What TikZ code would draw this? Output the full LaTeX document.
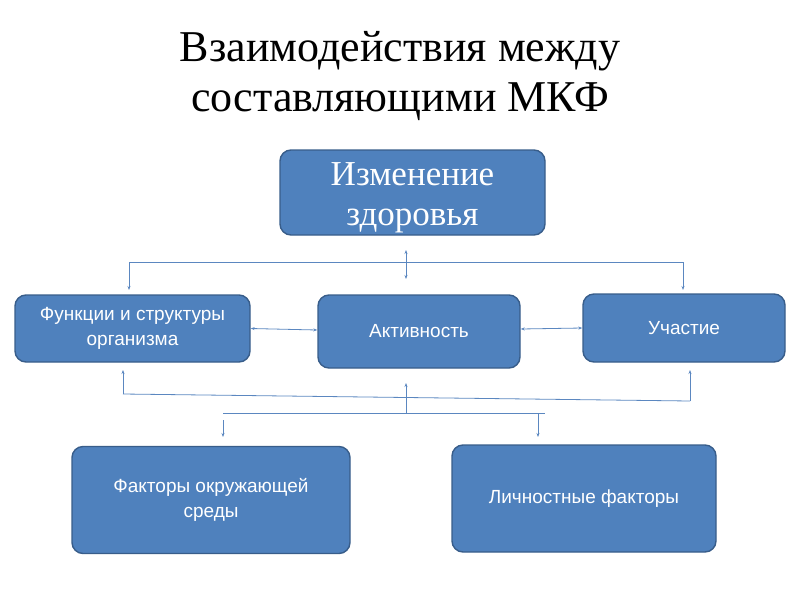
\documentclass[tikz,border=0pt]{standalone}
\usepackage{fontspec}
\setmainfont{Liberation Serif}
\newfontfamily\boxfont{Liberation Sans}
\usetikzlibrary{arrows.meta}
\definecolor{boxblue}{HTML}{4F81BD}
\definecolor{boxedge}{HTML}{385D8A}
\definecolor{linkblue}{HTML}{5B87C0}
\newcommand{\blk}[2]{node[box,minimum width=#1,minimum height=#2]}

\begin{document}
\begin{tikzpicture}[x=1pt,y=-1pt,
	box/.style={fill=boxblue,draw=boxedge,line width=1.4pt,rounded corners=11pt,
		text=white,align=center,inner sep=0pt,font=\boxfont\fontsize{19}{25}\selectfont},
	link/.style={draw=linkblue,line width=0.8pt},
	tip/.style={link,-{Stealth[length=4pt,width=3pt]}},
	tips/.style={link,{Stealth[length=4pt,width=3pt]}-{Stealth[length=4pt,width=3pt]}}]
\useasboundingbox (0,0) rectangle (800,600);

\node[align=center,font=\fontsize{44}{50}\selectfont] (title) at (400,76) {Взаимодействия между\\составляющими МКФ};

\path (412.5,192.5) \blk{265pt}{85pt} (health) {};
\node[text=white,align=center,font=\fontsize{35}{40}\selectfont] (healthtext) at (412.5,198) {Изменение\\здоровья};
\path (132.5,328.5) \blk{235pt}{67pt} (body) {Функции и структуры\\организма};
\path (419,331.5) \blk{202pt}{73pt} (activity) {Активность};
\path (684,328) \blk{202pt}{68pt} (particip) {Участие};
\path (211,500) \blk{278pt}{107pt} (env) {Факторы окружающей\\среды};
\path (584,498.5) \blk{264pt}{107pt} (personal) {Личностные факторы};

\coordinate (tl) at (129,262);
\coordinate (tr) at (683,262);
\draw[link] (tl) -- (tr);
\draw[tip] (tl) -- (129,290);
\draw[tip] (tr) -- (683,290);
\draw[tips] (406,250) -- (406,279);

\draw[tips] (body.east) -- (activity.west |- 0,330);
\draw[tips] (activity.east |- 0,329) -- (particip.west);

\coordinate (bl) at (123,394);
\coordinate (br) at (690,401);
\draw[tip] (bl) -- (123,370);
\draw[link] (bl) -- (br);
\draw[tip] (br) -- (690,370);

\coordinate (ml) at (223,413);
\coordinate (mr) at (545,413);
\draw[link] (ml) -- (mr);
\draw[tip] (406,413) -- (406,383);
\draw[tip] (223,420) -- (223,437);
\draw[tip] (538,413) -- (538,437);
\end{tikzpicture}
\end{document}
